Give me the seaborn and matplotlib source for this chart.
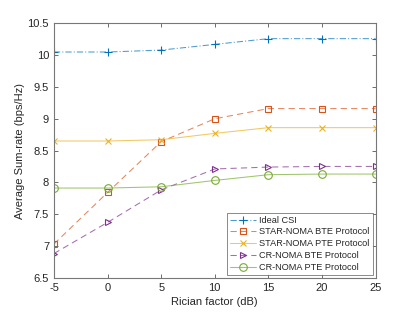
import matplotlib
matplotlib.use("Agg")
import matplotlib.pyplot as plt
import matplotlib.colors as mcolors
import seaborn as sns
import pandas as pd

rician_db = [-5, 0, 5, 10, 15, 20, 25]
ideal_csi = [10.05, 10.05, 10.08, 10.17, 10.26, 10.26, 10.26]
star_bte = [7.03, 7.84, 8.64, 9.00, 9.16, 9.16, 9.16]
star_pte = [8.65, 8.65, 8.67, 8.77, 8.86, 8.86, 8.86]
cr_bte = [6.88, 7.37, 7.88, 8.21, 8.24, 8.25, 8.25]
cr_pte = [7.91, 7.91, 7.93, 8.03, 8.12, 8.13, 8.13]
series_names = ["Ideal CSI", "STAR-NOMA BTE Protocol", "STAR-NOMA PTE Protocol",
                "CR-NOMA BTE Protocol", "CR-NOMA PTE Protocol"]
x_ticks = [-5, 0, 5, 10, 15, 20, 25]
y_ticks = [6.5, 7, 7.5, 8, 8.5, 9, 9.5, 10, 10.5]
y_tick_labels = ["6.5", "7", "7.5", "8", "8.5", "9", "9.5", "10", "10.5"]

sns.set_style("ticks")
plt.rcParams['font.family'] = ['Liberation Sans', 'DejaVu Sans']

colors = ["#0072BD", "#D95319", "#EDB120", "#7E2F8E", "#77AC30"]
markers = ["+", "s", "x", ">", "o"]
msizes = [6, 4.5, 4.5, 5, 5.5]
dashes = [(6, 2, 1, 2), (6, 4), None, (6, 4), None]

fig = plt.figure(figsize=(4.15, 3.12), dpi=100)
ax = fig.add_axes([0.130, 0.110, 0.775, 0.815])

vals = [ideal_csi, star_bte, star_pte, cr_bte, cr_pte]
for name, v, c, m, ms, d in zip(series_names, vals, colors, markers, msizes, dashes):
    df = pd.DataFrame({"x": rician_db, "y": v})
    sns.lineplot(data=df, x="x", y="y", ax=ax, color=c, marker=m,
                 markersize=ms, markerfacecolor="none",
                 markeredgecolor=c, markeredgewidth=0.8, linewidth=0.75,
                 label=name)
    ln = ax.lines[-1]
    ln.set_color(mcolors.to_rgba(c, 0.7))
    ln.set_markeredgecolor(c)
    if d is not None:
        ln.set_dashes(d)
    else:
        ln.set_linestyle("-")

ax.set_xlim(-5, 25)
ax.set_ylim(6.5, 10.5)
ax.set_xticks(x_ticks)
ax.set_xticklabels([str(t) for t in x_ticks])
ax.set_yticks(y_ticks)
ax.set_yticklabels(y_tick_labels)
ax.set_xlabel("Rician factor (dB)", fontsize=8, color="#262626", labelpad=3)
ax.set_ylabel("Average Sum-rate (bps/Hz)", fontsize=8, color="#262626", labelpad=2)
ax.tick_params(axis="both", direction="in", length=3, width=0.6, labelsize=8,
               colors="#555555", labelcolor="#262626", top=True, right=True)
for s in ax.spines.values():
    s.set_visible(True)
    s.set_color("#777777")
    s.set_linewidth(0.8)

leg = ax.legend(loc="lower right", fontsize=6.6, frameon=True, fancybox=False,
                handlelength=2.9, borderpad=0.35, labelspacing=0.3,
                handletextpad=0.3, borderaxespad=0.3)
leg.get_frame().set_edgecolor("#555555")
leg.get_frame().set_linewidth(0.6)

fig.savefig("out.png", dpi=100)
